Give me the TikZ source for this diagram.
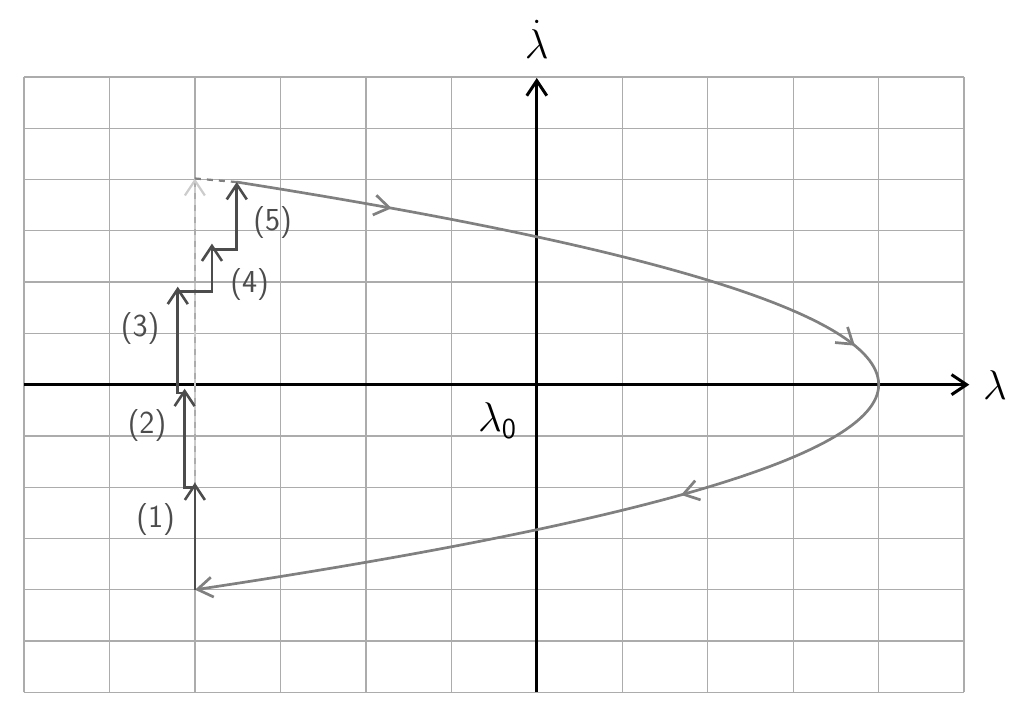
\documentclass[tikz,border=0pt]{standalone}
\usetikzlibrary{arrows.meta,decorations.markings}

\begin{document}
\begin{tikzpicture}[x=1.5cm,y=0.9cm,
  >={Straight Barb[length=7.5pt,width=10pt]},
  gridline/.style={gray!65,line width=0.7pt},
  axisline/.style={black,line width=1.5pt,->},
  orbit/.style={gray,line width=1.35pt},
  stair/.style={black!70,line width=1.3pt,->},
  stairlabel/.style={font=\sffamily\fontsize{16}{18}\selectfont,text=black!70}]
\useasboundingbox (-6.28,-6.45) rectangle (5.70,7.5);

\draw [gridline,step=1] (-6,-6) grid (5,6);

\coordinate (xl) at (-6,0);
\coordinate (xr) at (5.06,0);
\coordinate (yb) at (0,-6);
\coordinate (yt) at (0,5.98);
\draw [axisline] (xl) -- (xr);
\draw [axisline] (yb) -- (yt);

\node (ydot) at (0,6.74) {\huge$\dot\lambda$};
\node (xlam) at (5.36,0) {\huge$\lambda$};
\node (lamzero) at (-0.46,-0.7) {\huge$\lambda_{\mathsf{0}}$};

\coordinate (a1) at (-4,-4);
\coordinate (t1) at (-4,-1.91);
\coordinate (b2) at (-4,-2);
\coordinate (c2) at (-4.12,-2);
\coordinate (t2) at (-4.12,-0.08);
\coordinate (b3) at (-4.12,-0.16);
\coordinate (c3) at (-4.2,-0.16);
\coordinate (t3) at (-4.2,1.91);
\coordinate (b4) at (-4.2,1.82);
\coordinate (c4) at (-3.8,1.82);
\coordinate (t4) at (-3.8,2.75);
\coordinate (b5) at (-3.8,2.63);
\coordinate (c5) at (-3.51,2.63);
\coordinate (t5) at (-3.51,3.95);
\coordinate (jump) at (-4,4.02);

\draw [gray!40,dashed,line width=1.1pt,->] (a1) -- (jump);
\draw [gray,dashed,line width=1.1pt] (jump) -- (t5);

\draw [orbit,->,postaction={decorate},decoration={markings,
  mark=at position 0.1105 with {\arrow{>}},
  mark=at position 0.4525 with {\arrow{>}},
  mark=at position 0.6515 with {\arrow{>}}}]
  plot [domain=3.95:-4,samples=120] ({4-(\x>0?0.4813:0.5)*\x*\x},\x);

\draw [stair] (a1) -- (t1);
\draw [stair] (b2) -- (c2) -- (t2);
\draw [stair] (b3) -- (c3) -- (t3);
\draw [stair] (b4) -- (c4) -- (t4);
\draw [stair] (b5) -- (c5) -- (t5);

\node [stairlabel] (n1) at (-4.46,-2.62) {(1)};
\node [stairlabel] (n2) at (-4.56,-0.80) {(2)};
\node [stairlabel] (n3) at (-4.64,1.09) {(3)};
\node [stairlabel] (n4) at (-3.36,1.95) {(4)};
\node [stairlabel] (n5) at (-3.09,3.16) {(5)};
\end{tikzpicture}
\end{document}
